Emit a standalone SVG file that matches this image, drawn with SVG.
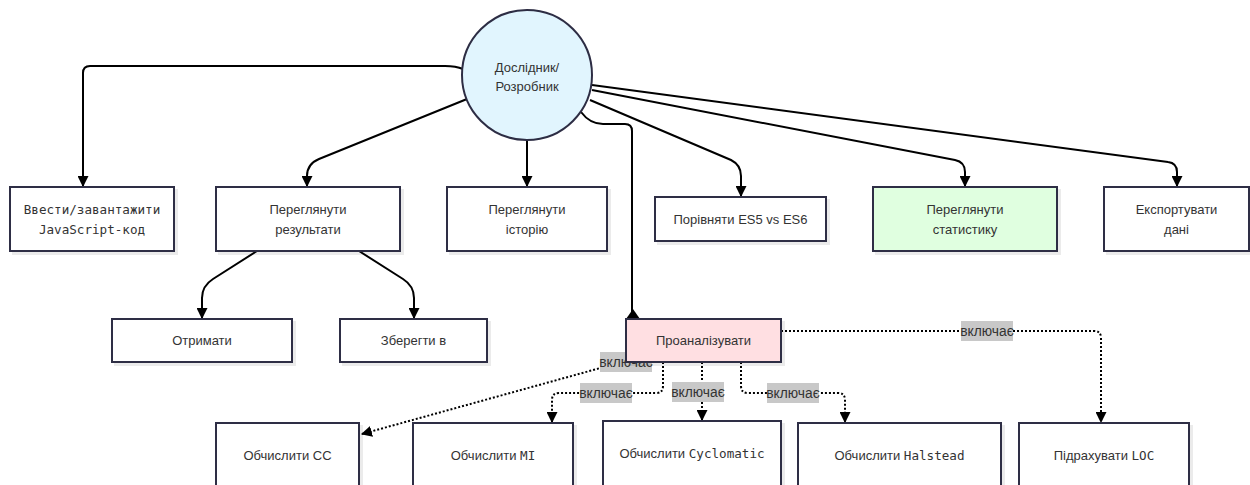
<svg xmlns="http://www.w3.org/2000/svg" width="1250" height="485" viewBox="0 0 1250 485">
<style>
.box{fill:#fff;stroke:#2d2d44;stroke-width:2;filter:url(#sh)}
.t{font-family:"Liberation Sans",Arial,sans-serif;font-size:13px;fill:#333;text-anchor:middle}
.m{font-family:"DejaVu Sans Mono","Liberation Mono",monospace;font-size:12.6px}
.e{fill:none;stroke:#000;stroke-width:2}
.d{fill:none;stroke:#000;stroke-width:2;stroke-dasharray:2 2}
.lb{fill:#c8c8c8}
.lt{font-family:"Liberation Sans",Arial,sans-serif;font-size:13.8px;fill:#333;text-anchor:middle}
</style>
<defs>
<filter id="sh" x="-10%" y="-10%" width="130%" height="130%">
<feDropShadow dx="3" dy="3" stdDeviation="0.6" flood-color="#000" flood-opacity="0.08"/>
</filter>
<marker id="ah" viewBox="0 0 10 10" refX="9" refY="5" markerWidth="11" markerHeight="11" markerUnits="userSpaceOnUse" orient="auto">
<path d="M0,0 L10,5 L0,10 z" fill="#000"/>
</marker>
</defs>
<rect width="1250" height="485" fill="#fff"/>
<g id="connectors">
<path class="e" marker-end="url(#ah)" d="M463,69 Q456,66 445,66 L90,66 Q83,66 83,73 L83,186"/>
<path class="e" marker-end="url(#ah)" d="M467,99 L319,159 Q307,164 307,176 L307,186"/>
<path class="e" marker-end="url(#ah)" d="M527,140 L527,186"/>
<path class="e" d="M581,112 Q590,124 603,124 L625,124 Q632,124 632,131 L632,312"/>
<polygon points="626,319 640,319 633,309" fill="#000"/>
<path class="e" marker-end="url(#ah)" d="M590,100 L731,160 Q741,165 741,176 L741,196"/>
<path class="e" marker-end="url(#ah)" d="M592,90 L955,160 Q965,162 965,172 L965,186"/>
<path class="e" marker-end="url(#ah)" d="M592,85 L1168,162 Q1177,163 1177,172 L1177,186"/>
<path class="e" marker-end="url(#ah)" d="M257,251 L213,279 Q202,286 202,298 L202,318"/>
<path class="e" marker-end="url(#ah)" d="M359,251 L403,279 Q414,286 414,298 L414,318"/>
<path class="d" marker-end="url(#ah)" d="M622,362 L362,434"/>
<path class="d" marker-end="url(#ah)" d="M663,362 L663,386 Q663,393 656,393 L559,393 Q552,393 552,400 L552,422"/>
<path class="d" marker-end="url(#ah)" d="M702,362 L702,420"/>
<path class="d" marker-end="url(#ah)" d="M741,362 L741,386 Q741,393 748,393 L838,393 Q845,393 845,400 L845,422"/>
<path class="d" marker-end="url(#ah)" d="M781,331 L1094,331 Q1101,331 1101,338 L1101,422"/>
<rect class="lb" x="600" y="352" width="52" height="20"/>
<text class="lt" x="626" y="366.5">включає</text>
<rect class="lb" x="580" y="383" width="52" height="20"/>
<text class="lt" x="606" y="397.5">включає</text>
<rect class="lb" x="672" y="382" width="52" height="20"/>
<text class="lt" x="698" y="396.5">включає</text>
<rect class="lb" x="767" y="383" width="52" height="20"/>
<text class="lt" x="793" y="397.5">включає</text>
<rect class="lb" x="961" y="321" width="52" height="20"/>
<text class="lt" x="987" y="335.5">включає</text>
</g>
<g id="actor">
<circle cx="527" cy="75" r="65" fill="#e1f5fe" stroke="#2d2d44" stroke-width="2"/>
<text class="t" x="527" y="71.5">Дослідник/</text>
<text class="t" x="527" y="91">Розробник</text>
</g>
<g id="input">
<rect class="box" x="10" y="187" width="164" height="64"/>
<text class="t m" x="92" y="213.5">Ввести/завантажити</text>
<text class="t m" x="92" y="233.5">JavaScript-код</text>
</g>
<g id="results">
<rect class="box" x="216" y="187" width="184" height="64"/>
<text class="t" x="308" y="213.5">Переглянути</text>
<text class="t" x="308" y="233.5">результати</text>
</g>
<g id="history">
<rect class="box" x="447" y="187" width="160" height="64"/>
<text class="t" x="527" y="213.5">Переглянути</text>
<text class="t" x="527" y="233.5">історію</text>
</g>
<g id="compare">
<rect class="box" x="655" y="197" width="171" height="44"/>
<text class="t" x="740.5" y="223.5">Порівняти ES5 vs ES6</text>
</g>
<g id="stats">
<rect class="box" x="873" y="187" width="184" height="64" style="fill:#e0ffe0"/>
<text class="t" x="965" y="213.5">Переглянути</text>
<text class="t" x="965" y="233.5">статистику</text>
</g>
<g id="export">
<rect class="box" x="1104" y="187" width="145" height="64"/>
<text class="t" x="1176.5" y="213.5">Експортувати</text>
<text class="t" x="1176.5" y="233.5">дані</text>
</g>
<g id="get">
<rect class="box" x="112" y="319" width="180" height="43"/>
<text class="t" x="202" y="345">Отримати</text>
</g>
<g id="save">
<rect class="box" x="340" y="319" width="147" height="43"/>
<text class="t" x="413.5" y="345">Зберегти в</text>
</g>
<g id="analyze">
<rect class="box" x="626" y="319" width="155" height="43" style="fill:#ffdfe2"/>
<text class="t" x="703.5" y="345">Проаналізувати</text>
</g>
<g id="cc">
<rect class="box" x="216" y="423" width="143" height="64"/>
<text class="t" x="287.5" y="459.5">Обчислити CC</text>
</g>
<g id="mi">
<rect class="box" x="413" y="423" width="160" height="64"/>
<text class="t" x="493" y="459.5">Обчислити <tspan class="m">MI</tspan></text>
</g>
<g id="cyclomatic">
<rect class="box" x="603" y="421" width="178" height="66"/>
<text class="t" x="692" y="457.5">Обчислити <tspan class="m">Cyclomatic</tspan></text>
</g>
<g id="halstead">
<rect class="box" x="798" y="423" width="203" height="64"/>
<text class="t" x="899.5" y="459.5">Обчислити <tspan class="m">Halstead</tspan></text>
</g>
<g id="loc">
<rect class="box" x="1019" y="423" width="170" height="64"/>
<text class="t" x="1104" y="459.5">Підрахувати <tspan class="m">LOC</tspan></text>
</g>
</svg>
